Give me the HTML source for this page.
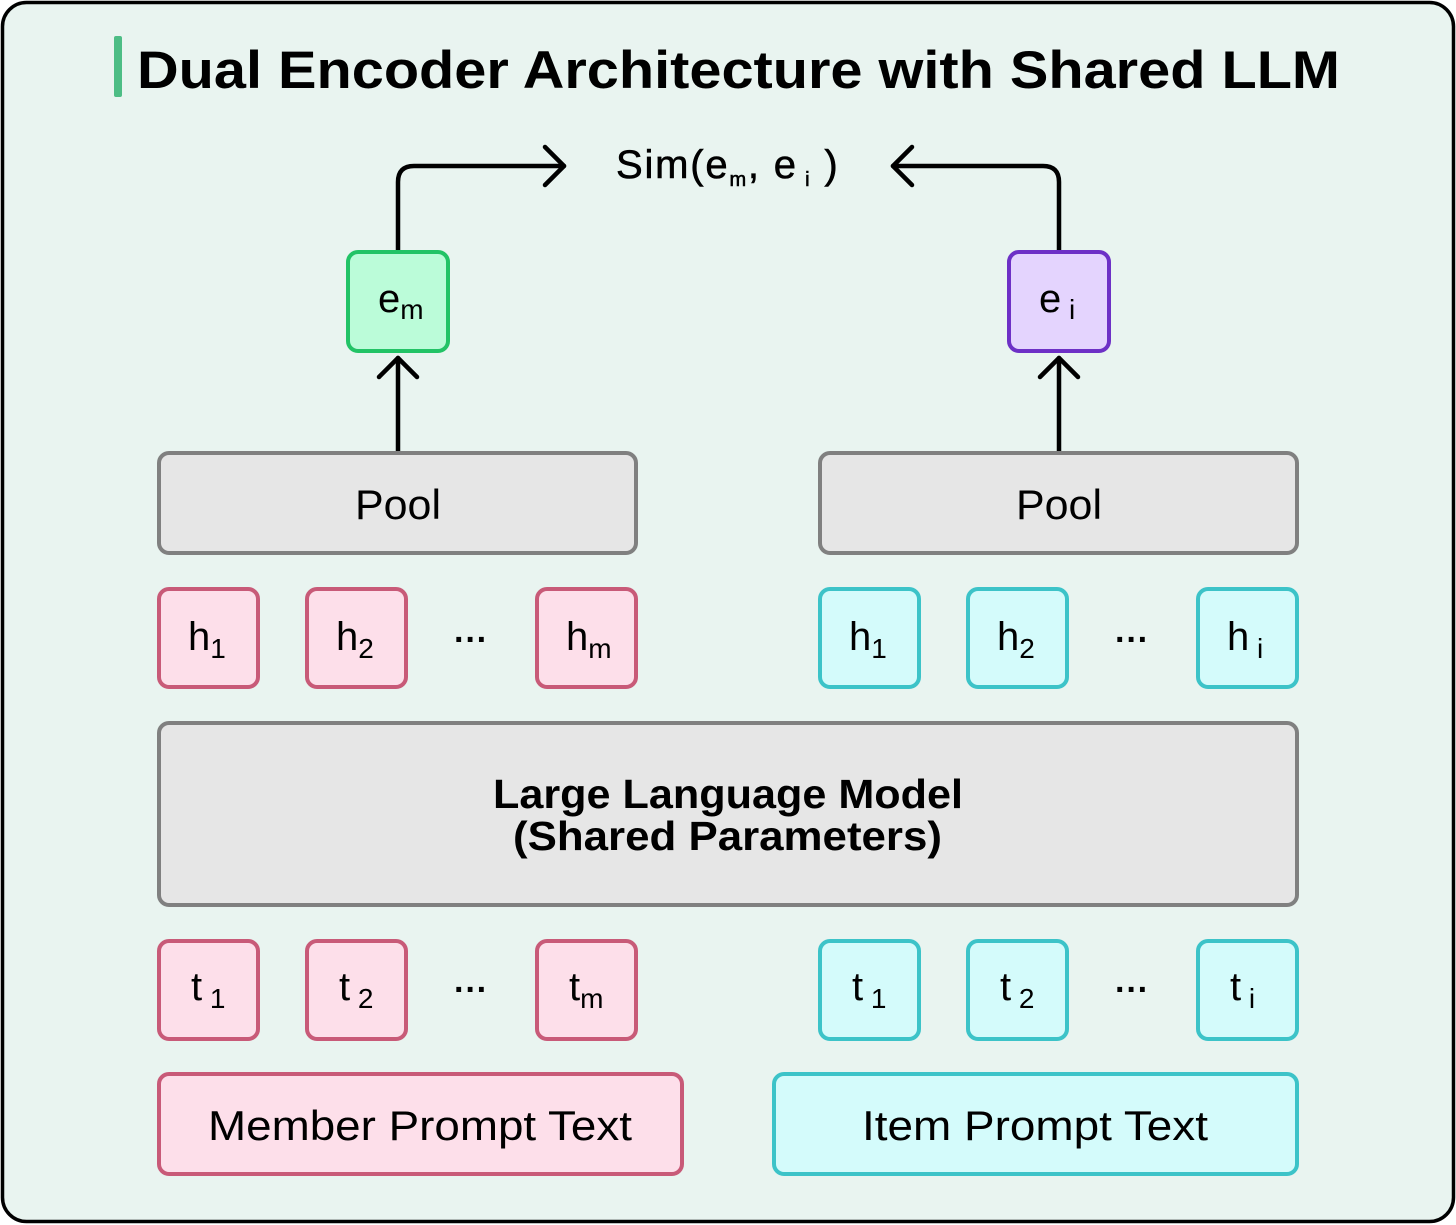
<!DOCTYPE html>
<html><head><meta charset="utf-8">
<style>
html,body{margin:0;padding:0;background:#fff;}
svg{display:block;}
text{font-family:"Liberation Sans",sans-serif;fill:#000;}
</style></head>
<body>
<svg width="1456" height="1225" viewBox="0 0 1456 1225" xmlns="http://www.w3.org/2000/svg">
<rect x="2.5" y="2.5" width="1451" height="1219" rx="24" fill="#e9f4f0" stroke="#000" stroke-width="3.5"/>
<rect x="114" y="36" width="8" height="61" rx="2" fill="#4dbd85"/>
<text x="137" y="88" font-size="53" font-weight="bold" textLength="1203" lengthAdjust="spacingAndGlyphs">Dual Encoder Architecture with Shared LLM</text>

<g fill="none" stroke="#000" stroke-width="4.5" stroke-linecap="round" stroke-linejoin="round">
<path d="M398 251 V182 Q398 166 414 166 H564"/>
<path d="M545 147 L564 166 L545 185"/>
<path d="M1059 251 V182 Q1059 166 1043 166 H893"/>
<path d="M912 147 L893 166 L912 185"/>
<path d="M398 452 V358"/>
<path d="M379 377 L398 358 L417 377"/>
<path d="M1059 452 V358"/>
<path d="M1040 377 L1059 358 L1078 377"/>
</g>
<text x="616" y="178" font-size="40" letter-spacing="1.8" stroke="#000" stroke-width="0.6">Sim(e<tspan font-size="20" dy="8">m</tspan><tspan dy="-8">, e</tspan><tspan font-size="20" dy="8"> i</tspan><tspan dy="-8"> )</tspan></text>

<rect x="348" y="252" width="100" height="99" rx="10" fill="#bbfcd9" stroke="#22c366" stroke-width="4"/>
<text x="378" y="312" font-size="40">e<tspan font-size="28" dy="7">m</tspan></text>
<rect x="1009" y="252" width="100" height="99" rx="10" fill="#e4d4fe" stroke="#6d30c6" stroke-width="4"/>
<text x="1039" y="312" font-size="40">e<tspan font-size="28" dy="7"> i</tspan></text>

<g fill="#e6e6e6" stroke="#808080" stroke-width="4">
<rect x="159" y="453" width="477" height="100" rx="10"/>
<rect x="820" y="453" width="477" height="100" rx="10"/>
<rect x="159" y="723" width="1138" height="182" rx="10"/>
</g>
<text x="355" y="519" font-size="42" textLength="86" lengthAdjust="spacingAndGlyphs">Pool</text>
<text x="1016" y="519" font-size="42" textLength="86" lengthAdjust="spacingAndGlyphs">Pool</text>
<text x="493" y="808" font-size="41" font-weight="bold" textLength="470" lengthAdjust="spacingAndGlyphs">Large Language Model</text>
<text x="513" y="850" font-size="41" font-weight="bold" textLength="429" lengthAdjust="spacingAndGlyphs">(Shared Parameters)</text>

<g stroke-width="4">
<rect x="159" y="589" width="99" height="98" rx="10" fill="#fddfea" stroke="#c85a78"/>
<rect x="307" y="589" width="99" height="98" rx="10" fill="#fddfea" stroke="#c85a78"/>
<rect x="537" y="589" width="99" height="98" rx="10" fill="#fddfea" stroke="#c85a78"/>
<rect x="820" y="589" width="99" height="98" rx="10" fill="#d4fbfb" stroke="#3cc3c8"/>
<rect x="968" y="589" width="99" height="98" rx="10" fill="#d4fbfb" stroke="#3cc3c8"/>
<rect x="1198" y="589" width="99" height="98" rx="10" fill="#d4fbfb" stroke="#3cc3c8"/>

<rect x="159" y="941" width="99" height="98" rx="10" fill="#fddfea" stroke="#c85a78"/>
<rect x="307" y="941" width="99" height="98" rx="10" fill="#fddfea" stroke="#c85a78"/>
<rect x="537" y="941" width="99" height="98" rx="10" fill="#fddfea" stroke="#c85a78"/>
<rect x="820" y="941" width="99" height="98" rx="10" fill="#d4fbfb" stroke="#3cc3c8"/>
<rect x="968" y="941" width="99" height="98" rx="10" fill="#d4fbfb" stroke="#3cc3c8"/>
<rect x="1198" y="941" width="99" height="98" rx="10" fill="#d4fbfb" stroke="#3cc3c8"/>

<rect x="159" y="1074" width="523" height="100" rx="10" fill="#fddfea" stroke="#c85a78"/>
<rect x="774" y="1074" width="523" height="100" rx="10" fill="#d4fbfb" stroke="#3cc3c8"/>
</g>

<g font-size="40">
<text x="188" y="650">h<tspan font-size="28" dy="8">1</tspan></text>
<text x="336" y="650">h<tspan font-size="28" dy="8">2</tspan></text>
<text x="566" y="650">h<tspan font-size="28" dy="8">m</tspan></text>
<text x="849" y="650">h<tspan font-size="28" dy="8">1</tspan></text>
<text x="997" y="650">h<tspan font-size="28" dy="8">2</tspan></text>
<text x="1227" y="650">h<tspan font-size="28" dy="8"> i</tspan></text>
<text x="471" y="651" text-anchor="middle" font-size="34" font-weight="bold">···</text>
<text x="1132" y="651" text-anchor="middle" font-size="34" font-weight="bold">···</text>

<text x="191" y="1000">t<tspan font-size="28" dy="8"> 1</tspan></text>
<text x="339" y="1000">t<tspan font-size="28" dy="8"> 2</tspan></text>
<text x="569" y="1000">t<tspan font-size="28" dy="8">m</tspan></text>
<text x="852" y="1000">t<tspan font-size="28" dy="8"> 1</tspan></text>
<text x="1000" y="1000">t<tspan font-size="28" dy="8"> 2</tspan></text>
<text x="1230" y="1000">t<tspan font-size="28" dy="8"> i</tspan></text>
<text x="471" y="1001" text-anchor="middle" font-size="34" font-weight="bold">···</text>
<text x="1132" y="1001" text-anchor="middle" font-size="34" font-weight="bold">···</text>

<text x="208" y="1140" font-size="42" textLength="424" lengthAdjust="spacingAndGlyphs">Member Prompt Text</text>
<text x="862" y="1140" font-size="42" textLength="346" lengthAdjust="spacingAndGlyphs">Item Prompt Text</text>
</g>
</svg>
</body></html>
